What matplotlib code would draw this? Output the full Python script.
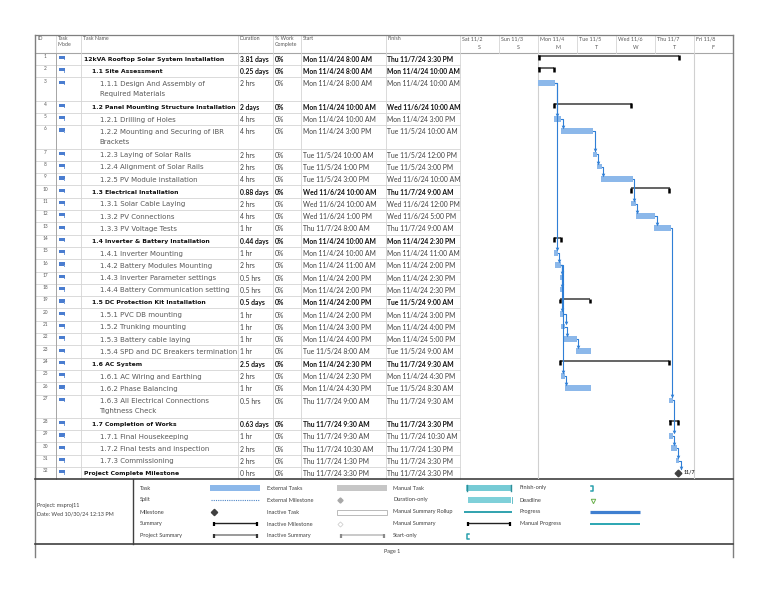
import matplotlib
matplotlib.use("Agg")
import matplotlib.pyplot as plt
from matplotlib.patches import Rectangle

# ---- task table data ----
names = [
    "12kVA Rooftop Solar System Installation",
    "1.1 Site Assessment",
    "1.1.1 Design And Assembly of\nRequired Materials",
    "1.2 Panel Mounting Structure Installation",
    "1.2.1 Drilling of Holes",
    "1.2.2 Mounting and Securing of IBR\nBrackets",
    "1.2.3 Laying of Solar Rails",
    "1.2.4 Alignment of Solar Rails",
    "1.2.5 PV Module installation",
    "1.3 Electrical Installation",
    "1.3.1 Solar Cable Laying",
    "1.3.2 PV Connections",
    "1.3.3 PV Voltage Tests",
    "1.4 Inverter & Battery Installation",
    "1.4.1 Inverter Mounting",
    "1.4.2 Battery Modules Mounting",
    "1.4.3 Inverter Parameter settings",
    "1.4.4 Battery Communication setting",
    "1.5 DC Protection Kit Installation",
    "1.5.1 PVC DB mounting",
    "1.5.2 Trunking mounting",
    "1.5.3 Battery cable laying",
    "1.5.4 SPD and DC Breakers termination",
    "1.6 AC System",
    "1.6.1 AC Wiring and Earthing",
    "1.6.2 Phase Balancing",
    "1.6.3 All Electrical Connections\nTightness Check",
    "1.7 Completion of Works",
    "1.7.1 Final Housekeeping",
    "1.7.2 Final tests and inspection",
    "1.7.3 Commissioning",
    "Project Complete Milestone",
]
levels = [0, 1, 2, 1, 2, 2, 2, 2, 2, 1, 2, 2, 2, 1, 2, 2, 2, 2, 1, 2, 2, 2, 2,
          1, 2, 2, 2, 1, 2, 2, 2, 0]
kinds = ["s", "s", "t", "s", "t", "t", "t", "t", "t", "s", "t", "t", "t", "s",
         "t", "t", "t", "t", "s", "t", "t", "t", "t", "s", "t", "t", "t", "s",
         "t", "t", "t", "m"]
durations = ["3.81 days", "0.25 days", "2 hrs", "2 days", "4 hrs", "4 hrs",
             "2 hrs", "2 hrs", "4 hrs", "0.88 days", "2 hrs", "4 hrs", "1 hr",
             "0.44 days", "1 hr", "2 hrs", "0.5 hrs", "0.5 hrs", "0.5 days",
             "1 hr", "1 hr", "1 hr", "1 hr", "2.5 days", "2 hrs", "1 hr",
             "0.5 hrs", "0.63 days", "1 hr", "2 hrs", "2 hrs", "0 hrs"]
starts = [
    "Mon 11/4/24 8:00 AM", "Mon 11/4/24 8:00 AM", "Mon 11/4/24 8:00 AM",
    "Mon 11/4/24 10:00 AM", "Mon 11/4/24 10:00 AM", "Mon 11/4/24 3:00 PM",
    "Tue 11/5/24 10:00 AM", "Tue 11/5/24 1:00 PM", "Tue 11/5/24 3:00 PM",
    "Wed 11/6/24 10:00 AM", "Wed 11/6/24 10:00 AM", "Wed 11/6/24 1:00 PM",
    "Thu 11/7/24 8:00 AM", "Mon 11/4/24 10:00 AM", "Mon 11/4/24 10:00 AM",
    "Mon 11/4/24 11:00 AM", "Mon 11/4/24 2:00 PM", "Mon 11/4/24 2:00 PM",
    "Mon 11/4/24 2:00 PM", "Mon 11/4/24 2:00 PM", "Mon 11/4/24 3:00 PM",
    "Mon 11/4/24 4:00 PM", "Tue 11/5/24 8:00 AM", "Mon 11/4/24 2:30 PM",
    "Mon 11/4/24 2:30 PM", "Mon 11/4/24 4:30 PM", "Thu 11/7/24 9:00 AM",
    "Thu 11/7/24 9:30 AM", "Thu 11/7/24 9:30 AM", "Thu 11/7/24 10:30 AM",
    "Thu 11/7/24 1:30 PM", "Thu 11/7/24 3:30 PM",
]
finishes = [
    "Thu 11/7/24 3:30 PM", "Mon 11/4/24 10:00 AM", "Mon 11/4/24 10:00 AM",
    "Wed 11/6/24 10:00 AM", "Mon 11/4/24 3:00 PM", "Tue 11/5/24 10:00 AM",
    "Tue 11/5/24 12:00 PM", "Tue 11/5/24 3:00 PM", "Wed 11/6/24 10:00 AM",
    "Thu 11/7/24 9:00 AM", "Wed 11/6/24 12:00 PM", "Wed 11/6/24 5:00 PM",
    "Thu 11/7/24 9:00 AM", "Mon 11/4/24 2:30 PM", "Mon 11/4/24 11:00 AM",
    "Mon 11/4/24 2:00 PM", "Mon 11/4/24 2:30 PM", "Mon 11/4/24 2:30 PM",
    "Tue 11/5/24 9:00 AM", "Mon 11/4/24 3:00 PM", "Mon 11/4/24 4:00 PM",
    "Mon 11/4/24 5:00 PM", "Tue 11/5/24 9:00 AM", "Thu 11/7/24 9:30 AM",
    "Mon 11/4/24 4:30 PM", "Tue 11/5/24 8:30 AM", "Thu 11/7/24 9:30 AM",
    "Thu 11/7/24 3:30 PM", "Thu 11/7/24 10:30 AM", "Thu 11/7/24 1:30 PM",
    "Thu 11/7/24 3:30 PM", "Thu 11/7/24 3:30 PM",
]

# ---- gantt bars, in days from Sat 11/2 00:00 ----
bar_start = [2.00, 2.00, 2.00, 2.40, 2.40, 2.60, 3.40, 3.50, 3.62, 4.38, 4.38,
             4.51, 4.98, 2.40, 2.41, 2.44, 2.56, 2.56, 2.56, 2.56, 2.60, 2.65,
             2.98, 2.56, 2.59, 2.69, 5.36, 5.36, 5.37, 5.42, 5.54, 5.59]
bar_end = [5.62, 2.42, 2.44, 4.40, 2.60, 3.42, 3.50, 3.63, 4.43, 5.38, 4.51,
           5.00, 5.40, 2.60, 2.51, 2.58, 2.64, 2.64, 3.34, 2.67, 2.70, 2.99,
           3.35, 5.37, 2.69, 3.35, 5.45, 5.61, 5.45, 5.56, 5.62, 5.59]
# finish-to-start links (1-based task ids)
links = [(3, 5), (5, 6), (6, 7), (7, 8), (8, 9), (9, 11), (11, 12), (12, 13),
         (13, 27), (3, 15), (15, 16), (16, 17), (16, 18), (16, 20), (20, 21),
         (21, 22), (22, 23), (16, 25), (25, 26), (27, 29), (29, 30), (30, 31),
         (31, 32)]
day_labels = ["Sat 11/2", "Sun 11/3", "Mon 11/4", "Tue 11/5", "Wed 11/6",
              "Thu 11/7", "Fri 11/8"]
day_letters = ["S", "S", "M", "T", "W", "T", "F"]
milestone_label = "11/7"

# ---- layout (pixels) ----
W, H = 768, 594
TOP, HEAD_B = 34.7, 52.7
ROW_H, ROW_H2 = 12.3, 23.3
cols = [35, 56, 81, 238, 273, 301, 386, 460]
G_L, G_R = 460, 733
PXD = (G_R - G_L) / 7.0
LEG_B, FOOT_B = 544, 557

tops = []
y = HEAD_B
for n in names:
    tops.append(y)
    y += ROW_H2 if "\n" in n else ROW_H
TABLE_B = y

GRID = "#d4d4d4"
FRAME = "#7f7f7f"
TXT = "#404040"
SUB = "#595959"
BAR = "#8cb8ea"
LINK = "#2f7fd6"
NAME_FONT = "DejaVu Sans"
DATA_FONT = "Lato"

fig = plt.figure(figsize=(W / 100, H / 100), dpi=100)
ax = fig.add_axes([0, 0, 1, 1])
ax.set_xlim(0, W)
ax.set_ylim(H, 0)
ax.axis("off")

# table grid
for t in tops[1:]:
    ax.plot([cols[0], G_L], [t, t], color=GRID, lw=0.6)
ax.plot([cols[0], G_R], [HEAD_B, HEAD_B], color="#a6a6a6", lw=0.8)
for cx in cols[1:]:
    ax.plot([cx, cx], [TOP, TABLE_B], color=GRID, lw=0.6)
ax.plot([cols[1], cols[1]], [HEAD_B, TABLE_B], color="#a6a6a6", lw=0.7)

# header
hdr = [("ID", cols[0] + 2), ("Task\nMode", cols[1] + 2), ("Task Name", cols[2] + 2),
       ("Duration", cols[3] + 2), ("% Work\nComplete", cols[4] + 2),
       ("Start", cols[5] + 2), ("Finish", cols[6] + 2)]
for label, hx in hdr:
    ax.text(hx, TOP + 1.5, label, fontsize=3.8, color=SUB, va="top",
            family=DATA_FONT, linespacing=1.2)
for i, (dl, lt) in enumerate(zip(day_labels, day_letters)):
    x0 = G_L + i * PXD
    ax.text(x0 + 2, TOP + 1.5, dl, fontsize=3.9, color=SUB, va="top", family=DATA_FONT)
    ax.text(x0 + PXD / 2, TOP + 10, lt, fontsize=3.9, color=SUB, va="top",
            ha="center", family=DATA_FONT)
    if i > 0:
        ax.plot([x0, x0], [TOP, HEAD_B], color=GRID, lw=0.6)

# rows
for i, n in enumerate(names):
    t = tops[i]
    c1 = t + ROW_H / 2
    ax.text((cols[0] + cols[1]) / 2, t + 3.8, str(i + 1), fontsize=3.4,
            color=SUB, ha="center", va="center", family=DATA_FONT)
    ax.add_patch(Rectangle((58.5, t + 3.2), 6, 3.2, color="#4a7dd0", lw=0))
    ax.add_patch(Rectangle((63.5, t + 6.2), 1.6, 1.6, color="#7fa3d9", lw=0))
    summ = kinds[i] == "s"
    bold_name = kinds[i] != "t"
    nx = cols[2] + 3 + [0, 7.5, 15.5][levels[i]]
    for k, line in enumerate(n.split("\n")):
        ax.text(nx, c1 + 0.5 + k * 10, line, fontsize=4.4 if bold_name else 5.0,
                va="center", family=NAME_FONT,
                color="#111111" if bold_name else SUB,
                fontweight="bold" if bold_name else "normal")
    fw = "bold" if summ else "normal"
    col = "#111111" if summ else TXT
    ax.text(cols[3] + 1.5, c1 + 0.5, durations[i], fontsize=4.9, va="center",
            family=DATA_FONT, fontweight=fw, color=col)
    ax.text(cols[4] + 2, c1 + 0.5, "0%", fontsize=4.9, va="center",
            family=DATA_FONT, fontweight=fw, color=col)
    ax.text(cols[5] + 2, c1 + 0.5, starts[i], fontsize=4.9, va="center",
            family=DATA_FONT, fontweight=fw, color=col)
    ax.text(cols[6] + 1, c1 + 0.5, finishes[i], fontsize=4.9, va="center",
            family=DATA_FONT, fontweight=fw, color=col, clip_on=True)

# ---- gantt area ----
gx = fig.add_axes([G_L / W, 1 - TABLE_B / H, (G_R - G_L) / W, (TABLE_B - HEAD_B) / H])
gx.set_xlim(0, 7)
gx.set_ylim(TABLE_B, HEAD_B)
gx.axis("off")
gx.axvline(2, color="#d0d0d0", lw=0.8)
gx.axvline(6, color="#d0d0d0", lw=0.8)

centers = [t + 5.8 for t in tops]
task_idx = [i for i, k in enumerate(kinds) if k == "t"]
gx.barh([centers[i] for i in task_idx],
        [bar_end[i] - bar_start[i] for i in task_idx],
        left=[bar_start[i] for i in task_idx], height=5.6, color=BAR, lw=0, zorder=2)

for i, k in enumerate(kinds):
    if k != "s":
        continue
    yb = tops[i] + 3.0
    gx.plot([bar_start[i], bar_end[i]], [yb, yb], color="#3a3a3a", lw=1.1, zorder=3,
            solid_capstyle="butt")
    for xe in (bar_start[i] + 0.6 / PXD, bar_end[i] - 0.6 / PXD):
        gx.plot([xe, xe], [yb - 0.6, yb + 4.2], color="black", lw=1.8, zorder=3,
                solid_capstyle="butt")

for p, s in links:
    p -= 1
    s -= 1
    x0 = bar_end[p]
    y0 = centers[p]
    xv = max(x0 + 1.5 / PXD, bar_start[s] + 1.5 / PXD)
    y1 = centers[s] - (3.2 if kinds[s] == "m" else 2.8)
    gx.plot([x0, xv, xv], [y0, y0, y1 - 1.0], color=LINK, lw=0.8, zorder=4)
    gx.plot(xv, y1 - 1.2, marker="v", ms=2.6, color=LINK, mew=0, zorder=4)

mi = kinds.index("m")
gx.plot(bar_start[mi], centers[mi], marker="D", ms=3.4, color="#404040", zorder=5)
gx.text(bar_start[mi] + 6 / PXD, centers[mi] - 0.5, milestone_label, fontsize=3.8,
        fontweight="bold", va="center", color="#333333", family=DATA_FONT)

# ---- frame ----
ax.plot([cols[0], G_R], [TOP, TOP], color=FRAME, lw=0.9)
ax.plot([cols[0], cols[0]], [TOP, FOOT_B], color=FRAME, lw=1.0)
ax.plot([G_R, G_R], [TOP, FOOT_B], color=FRAME, lw=1.0)
ax.plot([cols[0], G_R], [TABLE_B, TABLE_B], color="#404040", lw=1.2)
ax.plot([cols[0], G_R], [LEG_B, LEG_B], color="#404040", lw=1.2)
ax.plot([133, 133], [TABLE_B, LEG_B], color="#404040", lw=1.0)

# ---- legend ----
ax.text(37, 506, "Project: msproj11", fontsize=4.0, color=TXT, va="center", family=DATA_FONT)
ax.text(37, 513.5, "Date: Wed 10/30/24 12:13 PM", fontsize=4.0, color=TXT,
        va="center", family=DATA_FONT)
ly = [488, 500, 512, 524, 536]
leg_cols = [
    (140, ["Task", "Split", "Milestone", "Summary", "Project Summary"]),
    (267, ["External Tasks", "External Milestone", "Inactive Task",
           "Inactive Milestone", "Inactive Summary"]),
    (393, ["Manual Task", "Duration-only", "Manual Summary Rollup",
           "Manual Summary", "Start-only"]),
    (520, ["Finish-only", "Deadline", "Progress", "Manual Progress"]),
]
for lx, labels in leg_cols:
    for yy, lab in zip(ly, labels):
        ax.text(lx, yy, lab, fontsize=4.1, color=TXT, va="center", family=DATA_FONT)


def bracket(x0, x1, yy, line_col, tick_col, lw=1.0):
    ax.plot([x0, x1], [yy - 1.5, yy - 1.5], color=line_col, lw=lw, solid_capstyle="butt")
    for xe in (x0 + 0.5, x1 - 0.5):
        ax.plot([xe, xe], [yy - 2.2, yy + 2.2], color=tick_col, lw=1.6,
                solid_capstyle="butt")


# column 1
ax.add_patch(Rectangle((210, ly[0] - 2.8), 50, 5.6, color=BAR, lw=0))
ax.plot([211, 259], [ly[1], ly[1]], color="#4f86c6", lw=0.8, ls=(0, (1, 1)))
ax.plot(213.5, ly[2], marker="D", ms=3.2, color="#404040")
bracket(213, 257, ly[3], "#222222", "black", 1.0)
bracket(213, 257, ly[4], "#9a9a9a", "#333333", 1.4)
# column 2
ax.add_patch(Rectangle((337, ly[0] - 2.8), 50, 5.6, color="#c6c6c6", lw=0))
ax.plot(340, ly[1], marker="D", ms=2.6, color="#a8a8a8")
ax.add_patch(Rectangle((337, ly[2] - 2.5), 50, 5, facecolor="white",
                       edgecolor="#b0b0b0", lw=0.6))
ax.plot(340, ly[3], marker="D", ms=2.6, mfc="white", mec="#c8c8c8", mew=0.5)
bracket(340, 384, ly[4], "#c0c0c0", "#8a8a8a", 1.2)
# column 3
ax.add_patch(Rectangle((466, ly[0] - 2.8), 45, 5.6, color="#76cbd5", lw=0))
ax.plot([466.5, 466.5], [ly[0] - 2.8, ly[0] + 2.8], color="#2e8f9a", lw=1.0)
ax.plot([510.5, 510.5], [ly[0] - 2.8, ly[0] + 2.8], color="#2e8f9a", lw=1.0)
ax.add_patch(Rectangle((468, ly[1] - 2.8), 43, 5.6, color="#7fd0d9", lw=0))
ax.plot([511.5, 511.5], [ly[1] - 2.8, ly[1] + 2.8], color="#4fb5c0", lw=0.6)
ax.add_patch(Rectangle((464, ly[2] - 1.4), 48, 2.8, color="#35a4b0", lw=0))
bracket(467, 510, ly[3], "#222222", "black", 1.0)
ax.plot([468.5, 466.5, 466.5, 468.5], [ly[4] - 2.5, ly[4] - 2.5, ly[4] + 2.5,
                                        ly[4] + 2.5], color="#2aa0ad", lw=1.1)
# column 4
ax.plot([591, 593, 593, 591], [ly[0] - 2.5, ly[0] - 2.5, ly[0] + 2.5, ly[0] + 2.5],
        color="#2aa0ad", lw=1.1)
ax.plot(592.5, ly[1] + 0.5, marker="v", ms=3.2, mfc="white", mec="#6ab04c", mew=0.7)
ax.plot([590, 640], [ly[2], ly[2]], color="#3f7fd0", lw=2.3, solid_capstyle="butt")
ax.plot([590, 640], [ly[3], ly[3]], color="#2ba6b2", lw=1.4, solid_capstyle="butt")

ax.text(392.5, 551, "Page 1", fontsize=4.0, color=TXT, ha="center", va="center",
        family=DATA_FONT)

fig.savefig("out.png", dpi=100)
